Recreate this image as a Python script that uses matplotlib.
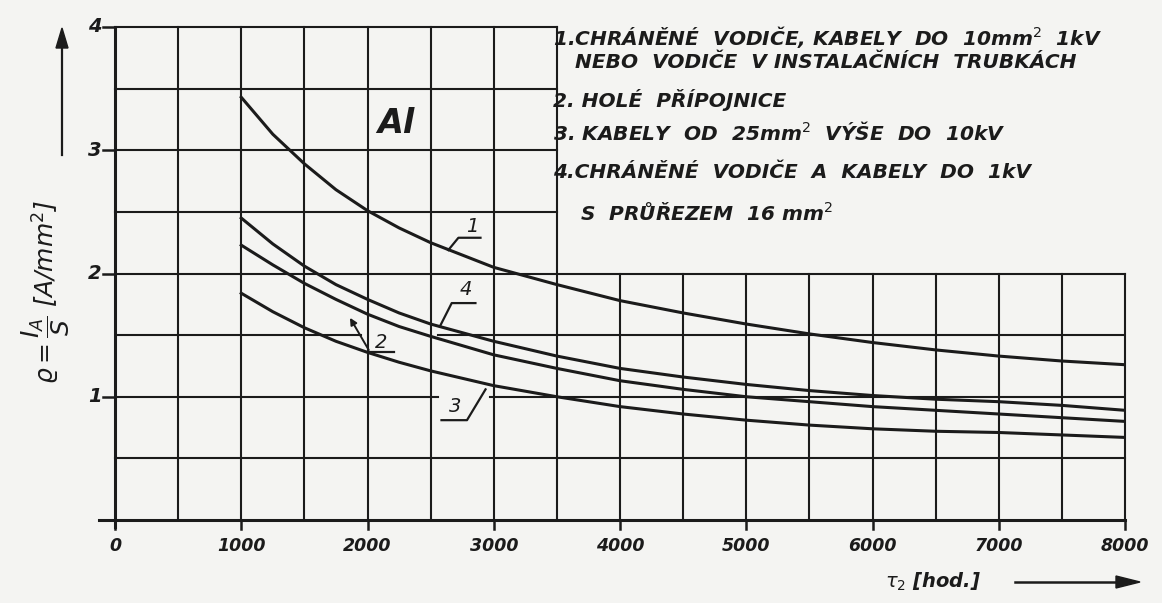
import matplotlib.pyplot as plt

plt.rcParams['font.family'] = ['DejaVu Sans']
plt.rcParams['mathtext.fontset'] = 'dejavusans'

# data
hours = [1000, 1250, 1500, 1750, 2000, 2250, 2500, 3000, 3500,
         4000, 4500, 5000, 5500, 6000, 6500, 7000, 7500, 8000]
curve_1 = [3.43, 3.13, 2.89, 2.68, 2.51, 2.37, 2.25, 2.05, 1.91,
           1.78, 1.68, 1.59, 1.51, 1.44, 1.38, 1.33, 1.29, 1.26]
curve_2 = [2.23, 2.07, 1.92, 1.79, 1.67, 1.57, 1.49, 1.34, 1.23,
           1.13, 1.06, 1.00, 0.96, 0.92, 0.89, 0.86, 0.83, 0.80]
curve_3 = [1.84, 1.69, 1.56, 1.45, 1.36, 1.28, 1.21, 1.09, 1.00,
           0.92, 0.86, 0.81, 0.77, 0.74, 0.72, 0.71, 0.69, 0.67]
curve_4 = [2.45, 2.24, 2.06, 1.91, 1.79, 1.68, 1.59, 1.45, 1.33,
           1.23, 1.16, 1.10, 1.05, 1.01, 0.98, 0.96, 0.93, 0.89]

x_ticks = [0, 1000, 2000, 3000, 4000, 5000, 6000, 7000, 8000]
y_ticks = [0, 1, 2, 3, 4]

legend_lines = [
    '1.CHRÁNĚNÉ  VODIČE, KABELY  DO  10mm$^{2}$  1kV',
    'NEBO  VODIČE  V INSTALAČNÍCH  TRUBKÁCH',
    '2. HOLÉ  PŘÍPOJNICE',
    '3. KABELY  OD  25mm$^{2}$  VÝŠE  DO  10kV',
    '4.CHRÁNĚNÉ  VODIČE  A  KABELY  DO  1kV',
    'S  PRŮŘEZEM  16 mm$^{2}$',
]

ink = '#1b1b1b'
paper = '#f4f4f2'
W, H = 1162, 603

fig = plt.figure(figsize=(W / 100, H / 100), dpi=100, facecolor=paper)
ax = fig.add_axes([115 / W, 1 - 520 / H, (1125 - 115) / W, (520 - 27) / H])
ax.set_facecolor(paper)
ax.set_xlim(0, 8000)
ax.set_ylim(0, 4)
ax.axis('off')

# grid, the upper part stops at 3500 to leave room for the notes
for x in range(500, 8001, 500):
    top = 4 if x <= 3500 else 2
    ax.plot([x, x], [0, top], color=ink, lw=1.5, clip_on=False)
for y in [0.5, 2.0]:
    ax.plot([0, 8000], [y, y], color=ink, lw=1.5, clip_on=False)
ax.plot([0, 1950], [1.5, 1.5], color=ink, lw=1.5)
ax.plot([2560, 8000], [1.5, 1.5], color=ink, lw=1.5)
ax.plot([0, 2560], [1.0, 1.0], color=ink, lw=1.5)
ax.plot([2970, 8000], [1.0, 1.0], color=ink, lw=1.5)
for y in [2.5, 3.0, 3.5, 4.0]:
    ax.plot([0, 3500], [y, y], color=ink, lw=1.5, clip_on=False)

# axes with ticks
ax.plot([-130, 8000], [0, 0], color=ink, lw=2.2, clip_on=False)
ax.plot([0, 0], [-0.06, 4], color=ink, lw=2.2, clip_on=False)
for t in y_ticks:
    ax.plot([-95, 0], [t, t], color=ink, lw=1.8, clip_on=False)
    if t > 0:
        ax.text(-105, t, str(t), ha='right', va='center', fontsize=14,
                style='italic', weight='bold', color=ink)
for t in x_ticks:
    ax.plot([t, t], [-0.07, 0], color=ink, lw=1.8, clip_on=False)
    ax.text(t, -0.21, str(t), ha='center', va='center', fontsize=12.5,
            style='italic', weight='bold', color=ink)

# curves
for c in [curve_1, curve_2, curve_3, curve_4]:
    ax.plot(hours, c, color=ink, lw=2.2, solid_joinstyle='round')

# curve labels with leaders
lk = dict(color=ink, lw=1.6)
tk = dict(ha='center', va='center', fontsize=14, style='italic', color=ink)
ax.plot([2640, 2720, 2895], [2.19, 2.29, 2.29], **lk)
ax.text(2830, 2.38, '1', **tk)
ax.plot([2573, 2667, 2855], [1.57, 1.76, 1.76], **lk)
ax.text(2780, 1.87, '4', **tk)
ax.plot([2210, 2021], [1.36, 1.36], **lk)
ax.annotate('', xy=(1850, 1.66), xytext=(2021, 1.36),
            arrowprops=dict(arrowstyle='-|>', color=ink, lw=1.4, mutation_scale=10))
ax.text(2105, 1.44, '2', **tk)
ax.plot([2586, 2788, 2935], [0.81, 0.81, 1.06], **lk)
ax.text(2694, 0.92, '3', **tk)

ax.text(2223, 3.22, 'Al', ha='center', va='center', fontsize=24,
        style='italic', weight='bold', color=ink)

# notes on the right
note_y = [37, 63, 100, 133, 172, 213]
note_x = [553, 575, 553, 553, 553, 580]
for s, x, y in zip(legend_lines, note_x, note_y):
    fig.text(x / W, 1 - y / H, s, ha='left', va='center', fontsize=14.5,
             style='italic', weight='bold', color=ink)

# axis titles with arrows
fig.text(46 / W, 1 - 292 / H, r'$\varrho = \dfrac{I_A}{S}$ [A/mm$^2$]', rotation=90,
         ha='center', va='center', fontsize=18, style='italic', color=ink)
fig.add_artist(plt.Line2D([62 / W, 62 / W], [1 - 155 / H, 1 - 45 / H], color=ink, lw=1.6))
fig.patches.append(plt.Polygon([[56 / W, 1 - 48 / H], [68 / W, 1 - 48 / H], [62 / W, 1 - 28 / H]],
                               closed=True, color=ink, transform=fig.transFigure))
fig.text(885 / W, 1 - 582 / H, r'$\tau_2$ [hod.]', ha='left', va='center',
         fontsize=14, style='italic', weight='bold', color=ink)
fig.add_artist(plt.Line2D([1015 / W, 1120 / W], [1 - 582 / H, 1 - 582 / H], color=ink, lw=1.8))
fig.patches.append(plt.Polygon([[1116 / W, 1 - 576 / H], [1116 / W, 1 - 588 / H], [1140 / W, 1 - 582 / H]],
                               closed=True, color=ink, transform=fig.transFigure))

fig.savefig('out.png', dpi=100, facecolor=paper)
